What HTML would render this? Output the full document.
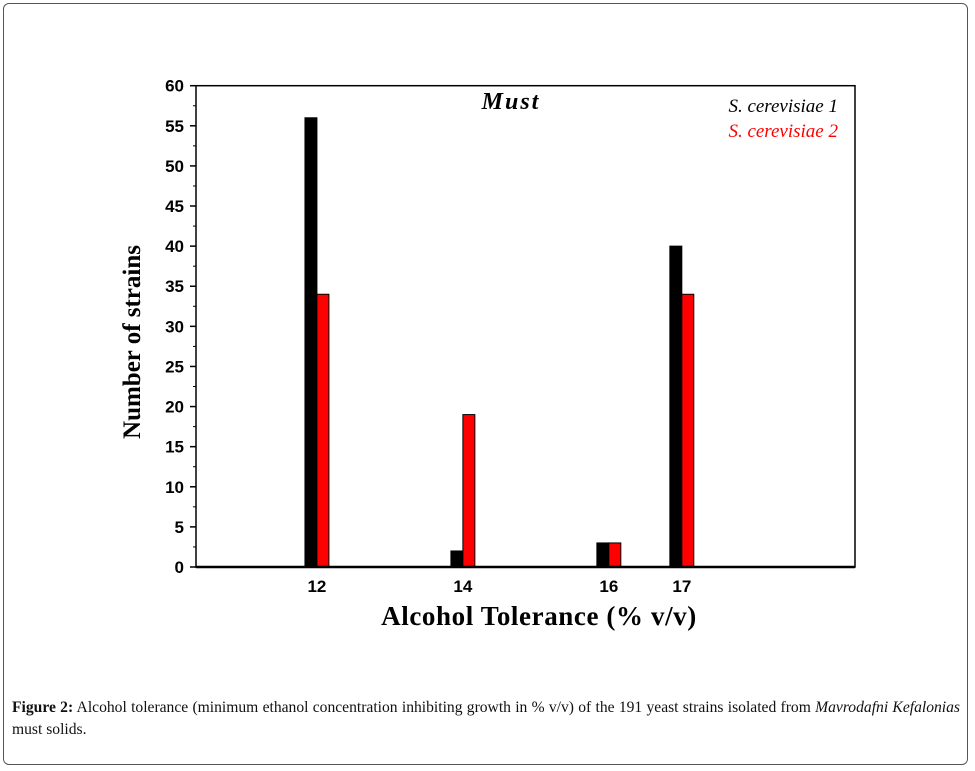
<!DOCTYPE html>
<html><head><meta charset="utf-8"><style>
body{margin:0;background:#fff;width:975px;height:771px;overflow:hidden;position:relative}
.frame{position:absolute;left:3px;top:3px;width:965px;height:762px;border:1px solid #555;border-radius:6px;box-sizing:border-box}
.cap{position:absolute;left:12px;top:697px;width:948px;font:15.6px/22px "Liberation Serif",serif;color:#111;text-align:justify}
</style></head><body>
<div class="frame"></div>
<svg width="975" height="771" style="position:absolute;left:0;top:0">
<g id="g"></g>
</svg>
<div class="cap"><b>Figure 2:</b> Alcohol tolerance (minimum ethanol concentration inhibiting growth in % v/v) of the 191 yeast strains isolated from <i>Mavrodafni Kefalonias</i> must solids.</div>
<script>
const categories=[12,14,16,17];
const cerevisiae1=[56,2,3,40];
const cerevisiae2=[34,19,3,34];
const yTicks=[0,5,10,15,20,25,30,35,40,45,50,55,60];
const NS="http://www.w3.org/2000/svg";
const g=document.getElementById('g');
const L=196,R=855,T=85.7,B=567;
const xMin=10.343,xMax=19.373;
const X=v=>L+(v-xMin)/(xMax-xMin)*(R-L);
const Y=v=>B-(v/60)*(B-T);
function el(t,a,txt){const e=document.createElementNS(NS,t);for(const k in a)e.setAttribute(k,a[k]);if(txt!==undefined)e.textContent=txt;g.appendChild(e);return e;}
const bw=0.164*(R-L)/(xMax-xMin);
categories.forEach((c,i)=>{
 let b=el('rect',{x:X(c)-bw,y:Y(cerevisiae1[i]),width:bw,height:B-Y(cerevisiae1[i]),fill:'#000',stroke:'#000','stroke-width':1});
 
 
 let r=el('rect',{x:X(c),y:Y(cerevisiae2[i]),width:bw,height:B-Y(cerevisiae2[i]),fill:'#f00',stroke:'#000','stroke-width':1});
 
 
 let t=el('text',{x:X(c),y:592,'text-anchor':'middle','font-family':'Liberation Sans, sans-serif','font-weight':'bold','font-size':17},String(c));
 
 
});
let ax=el('rect',{x:L,y:T,width:R-L,height:B-T,fill:'none',stroke:'#000','stroke-width':1.5});


el('line',{x1:L,y1:B,x2:R,y2:B,stroke:'#000','stroke-width':2.5});
yTicks.forEach(v=>{
 el('line',{x1:L-6,y1:Y(v),x2:L,y2:Y(v),stroke:'#000','stroke-width':1.5});
 if(v<60)el('line',{x1:L-3,y1:Y(v+2.5),x2:L,y2:Y(v+2.5),stroke:'#000','stroke-width':1});
 let t=el('text',{x:L-12,y:Y(v)+6,'text-anchor':'end','font-family':'Liberation Sans, sans-serif','font-weight':'bold','font-size':17},String(v));
 
 
});
let yt=el('text',{transform:'translate(140,342) rotate(-90)','text-anchor':'middle','font-family':'Liberation Serif, serif','font-weight':'bold','font-size':25},'Number of strains');


let xt=el('text',{x:539,y:625,'text-anchor':'middle','font-family':'Liberation Serif, serif','font-weight':'bold','font-size':27,'letter-spacing':0.6},'Alcohol Tolerance (% v/v)');


let tt=el('text',{x:511,y:109,'text-anchor':'middle','font-family':'Liberation Serif, serif','font-weight':'bold','font-style':'italic','font-size':24,'letter-spacing':2},'Must');


let l1=el('text',{x:838,y:112,'text-anchor':'end','font-family':'Liberation Serif, serif','font-style':'italic','font-size':19,fill:'#000'},'S. cerevisiae 1');


let l2=el('text',{x:838,y:137,'text-anchor':'end','font-family':'Liberation Serif, serif','font-style':'italic','font-size':19,fill:'#f00'},'S. cerevisiae 2');


</script>
</body></html>
